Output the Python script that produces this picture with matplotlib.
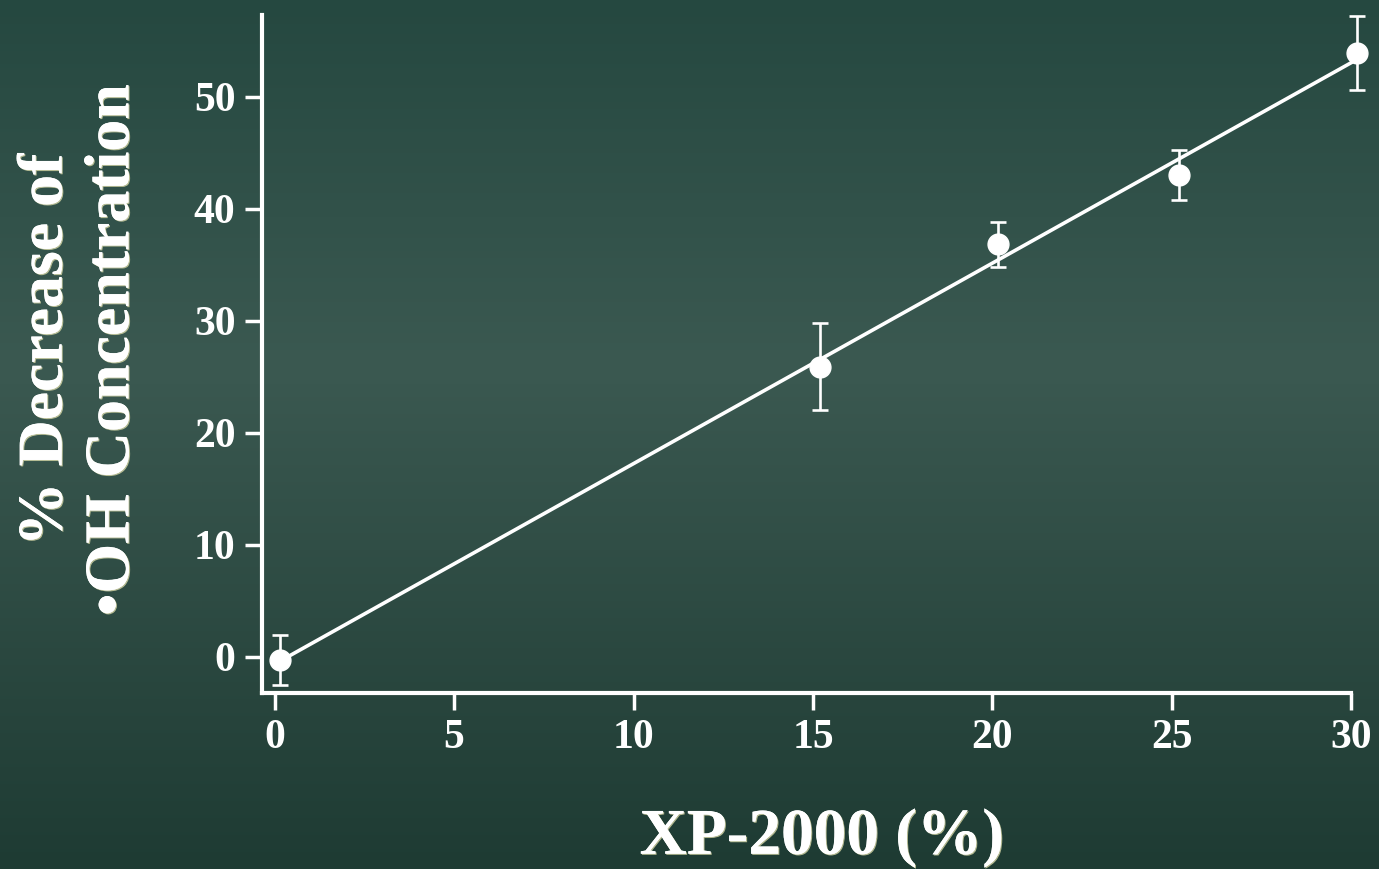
import numpy as np
import matplotlib.pyplot as plt
import matplotlib.patheffects as pe
from matplotlib.colors import LinearSegmentedColormap

# data
xp_pct = [0.15, 15.2, 20.15, 25.2, 30.15]
oh_decrease = [-0.3, 25.9, 36.8, 43.0, 53.9]
oh_err = [2.2, 3.9, 2.0, 2.2, 3.3]
x_ticks = [0, 5, 10, 15, 20, 25, 30]
y_ticks = [0, 10, 20, 30, 40, 50]

plt.rcParams['font.family'] = ['Liberation Serif', 'DejaVu Serif']
plt.rcParams['font.weight'] = 'bold'

fig = plt.figure(figsize=(13.79, 8.69), dpi=100)

# background gradient, lighter band in the middle
bg = fig.add_axes([0, 0, 1, 1], zorder=-10)
bg_cmap = LinearSegmentedColormap.from_list(
    'bg', [(0.0, '#254840'), (0.42, '#3b5951'), (1.0, '#1e3b33')])
bg.imshow(np.linspace(0, 1, 256).reshape(-1, 1), aspect='auto', cmap=bg_cmap,
          extent=[0, 1, 0, 1])
bg.set_axis_off()

ax = fig.add_axes([0.190, 0.203, 0.790, 0.780])
ax.patch.set_alpha(0)

white = '#ffffff'
slope, icpt = np.polyfit(xp_pct, oh_decrease, 1)
fit_x = np.array([xp_pct[0], xp_pct[-1]])
ax.plot(fit_x, icpt + slope * fit_x, color=white, lw=2.6, zorder=2, clip_on=False)
eb = ax.errorbar(xp_pct, oh_decrease, yerr=oh_err, fmt='o', color=white,
                 ms=15, elinewidth=1.9, capsize=6, capthick=1.9, zorder=3)
for art in eb.lines[0:1] + tuple(eb.lines[1]) + tuple(eb.lines[2]):
    art.set_clip_on(False)

ax.set_xlim(-0.35, 30)
ax.set_ylim(-3.2, 57.3)
ax.set_xticks(x_ticks)
ax.set_yticks(y_ticks)

for side in ['top', 'right']:
    ax.spines[side].set_visible(False)
for side in ['left', 'bottom']:
    ax.spines[side].set_color(white)
    ax.spines[side].set_linewidth(3)

ax.tick_params(axis='both', colors=white, labelsize=30, width=2.5, length=12)
ax.tick_params(axis='x', pad=7)
ax.tick_params(axis='y', pad=7)
for lab in ax.get_xticklabels() + ax.get_yticklabels():
    lab.set_fontweight('bold')

shadow = [pe.withSimplePatchShadow(offset=(0.8, -0.8), shadow_rgbFace='#d8d8a8',
                                   alpha=0.8), pe.Normal()]
fig.text(0.596, 0.036, 'XP-2000 (%)', color=white, fontsize=47, fontweight='bold',
         ha='center', va='center', path_effects=shadow)
fig.text(0.058, 0.597, '% Decrease of\n•OH Concentration', color=white, fontsize=46,
         fontweight='bold', rotation=90, ha='center', va='center',
         multialignment='center', linespacing=1.2, path_effects=shadow)

fig.savefig('out.png', dpi=100)
